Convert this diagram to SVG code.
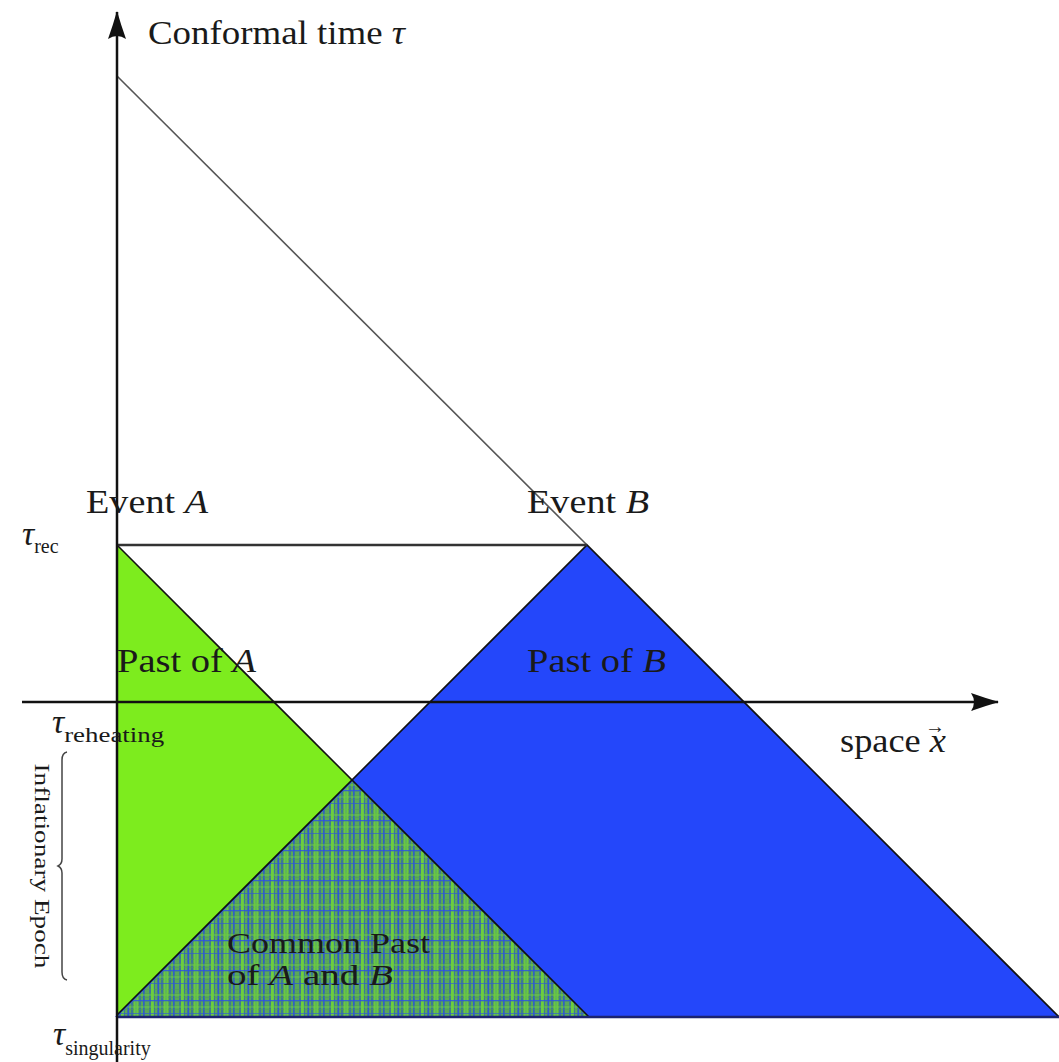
<svg xmlns="http://www.w3.org/2000/svg" width="1059" height="1062" viewBox="0 0 1059 1062">
<defs>
<style>
.lbl{font-family:"Liberation Serif","DejaVu Serif",serif;fill:#1a1a1a;font-size:34px}
.it{font-style:italic}
.sub{font-size:20px}
.axis{stroke:#111;stroke-width:2.5;fill:none}
.edge{stroke:#111;stroke-width:1.6;fill:none;stroke-linejoin:miter}
</style>
<pattern id="fine" width="4" height="4" patternUnits="userSpaceOnUse">
<rect width="4" height="4" fill="#3c7896"/>
<rect x="0" y="0" width="2" height="4" fill="#5fb04e" opacity="0.85"/>
<rect x="0" y="2" width="4" height="1" fill="#4f9a5a" opacity="0.6"/>
</pattern>
<pattern id="plaid" x="117" y="1017" width="30" height="30" patternUnits="userSpaceOnUse">
<rect width="30" height="30" fill="url(#fine)"/>
<rect x="4" y="0" width="3" height="30" fill="#76e030" opacity="0.7"/>
<rect x="17" y="0" width="4" height="30" fill="#76e030" opacity="0.6"/>
<rect x="11" y="0" width="1.2" height="30" fill="#2a4ee8" opacity="0.8"/>
<rect x="26" y="0" width="1.2" height="30" fill="#2a4ee8" opacity="0.6"/>
<rect x="0" y="7" width="30" height="2" fill="#6ccc40" opacity="0.5"/>
<rect x="0" y="19" width="30" height="2" fill="#6ccc40" opacity="0.4"/>
<rect x="0" y="13" width="30" height="1.3" fill="#2a4ee8" opacity="0.8"/>
<rect x="0" y="26" width="30" height="1" fill="#2a4ee8" opacity="0.6"/>
</pattern>
<marker id="arr" viewBox="0 0 28 20" refX="27" refY="10" markerWidth="28" markerHeight="20" markerUnits="userSpaceOnUse" orient="auto">
<path d="M0,1 Q14,6 28,10 Q14,14 0,19 Q6,10 0,1 Z" fill="#111"/>
</marker>
</defs>
<rect width="1059" height="1062" fill="#fff"/>

<g id="past-of-A">
<polygon points="117,545 117,1017 589,1017" fill="#7dec1e"/>
</g>
<g id="past-of-B">
<polygon points="587,545 115,1017 1059,1017" fill="#2447fa"/>
</g>
<g id="common-past">
<polygon points="117,1017 353,781 589,1017" fill="url(#plaid)"/>
</g>

<g id="connectors">
<polyline class="edge" points="117,545 589,1017"/>
<polyline class="edge" points="1059,1017 587,545 117,1015"/>
<line x1="117" y1="1017" x2="1059" y2="1017" stroke="#1c2470" stroke-width="2.5"/>
<line x1="117" y1="76" x2="587" y2="545" stroke="#555" stroke-width="1.6"/>
<line x1="117" y1="545" x2="587" y2="545" stroke="#333" stroke-width="2.5"/>
<line class="axis" x1="22" y1="702" x2="998" y2="702" marker-end="url(#arr)"/>
<line class="axis" x1="117" y1="1062" x2="117" y2="12" marker-end="url(#arr)"/>
<path d="M67,752 Q62,753 62,760 L62,859 Q62,864 58,866 Q62,868 62,873 L62,972 Q62,979 67,980" fill="none" stroke="#444" stroke-width="1.5"/>
</g>

<g id="labels">
<text class="lbl" x="148" y="44" textLength="257" lengthAdjust="spacingAndGlyphs">Conformal time <tspan class="it">τ</tspan></text>
<text class="lbl" x="86" y="513" textLength="122" lengthAdjust="spacingAndGlyphs">Event <tspan class="it">A</tspan></text>
<text class="lbl" x="527" y="513" textLength="122" lengthAdjust="spacingAndGlyphs">Event <tspan class="it">B</tspan></text>
<text class="lbl" x="117" y="672" textLength="139" lengthAdjust="spacingAndGlyphs">Past of <tspan class="it">A</tspan></text>
<text class="lbl" x="527" y="672" textLength="139" lengthAdjust="spacingAndGlyphs">Past of <tspan class="it">B</tspan></text>
<text class="lbl" x="840" y="752" textLength="106" lengthAdjust="spacingAndGlyphs">space <tspan class="it">x</tspan></text>
<text class="lbl" x="935" y="733" text-anchor="middle" style="font-size:20px">→</text>
<text class="lbl" x="227" y="953" textLength="203" lengthAdjust="spacingAndGlyphs" style="font-size:30px">Common Past</text>
<text class="lbl" x="227" y="985" textLength="166" lengthAdjust="spacingAndGlyphs" style="font-size:30px">of <tspan class="it">A</tspan> and <tspan class="it">B</tspan></text>
<text class="lbl" x="22" y="545"><tspan class="it">τ</tspan><tspan class="sub" dy="8">rec</tspan></text>
<text class="lbl" x="52" y="733"><tspan class="it">τ</tspan><tspan class="sub" dy="9" textLength="100" lengthAdjust="spacingAndGlyphs">reheating</tspan></text>
<text class="lbl" x="53" y="1045"><tspan class="it">τ</tspan><tspan class="sub" dy="10">singularity</tspan></text>
<text class="lbl" transform="translate(35,866) rotate(90)" text-anchor="middle" textLength="205" lengthAdjust="spacingAndGlyphs" style="font-size:21px">Inflationary  Epoch</text>
</g>
</svg>
